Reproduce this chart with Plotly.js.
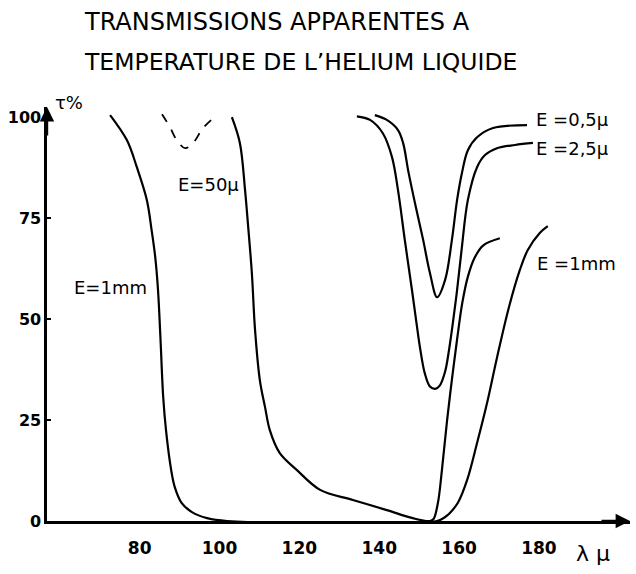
<!DOCTYPE html>
<html>
<head>
<meta charset="utf-8">
<script src="https://cdn.plot.ly/plotly-3.0.1.min.js"></script>
<style>
html,body{margin:0;padding:0;background:#fff;}
#chart{width:636px;height:574px;}
</style>
</head>
<body>
<div id="chart"></div>
<script>
// ---- data (wavelength in microns, transmission in %) ----
const titleLine1 = "TRANSMISSIONS APPARENTES A";
const titleLine2 = "TEMPERATURE DE L\u2019HELIUM LIQUIDE";

const xTicks = [80, 100, 120, 140, 160, 180];
const yTicks = [0, 25, 50, 75, 100];

const lam_1mm = [72.6, 76.8, 79.3, 81.8, 83.0, 83.9, 84.6, 85.2, 85.9, 86.6, 87.9, 88.8, 90.5, 93.1, 96.9, 101.9, 154.5, 156.5, 157.7, 159.7, 162.0, 164.5, 167.0, 169.5, 172.5, 175.2, 177.2, 180.2, 182.2];
const T_1mm   = [100.5, 94.3, 87.6, 79.5, 72.0, 65.4, 57.2, 45.5, 30.7, 22.5, 12.6, 8.4, 4.5, 2.2, 0.7, 0, 0, 1.0, 2.0, 4.5, 10.1, 19.3, 29.2, 40.5, 53.0, 62.1, 67.1, 71.3, 73.0];

const lam_50u = [103.1, 105.1, 106.4, 107.1, 108.1, 108.9, 110.1, 111.4, 112.6, 115.1, 119.4, 125.2, 133.4, 141.9, 148.4, 152.7, 153.6, 154.7, 155.7, 157.0, 158.2, 159.5, 160.8, 162.2, 163.8, 166.0, 170.2];
const T_50u   = [100, 93.6, 81.9, 73.8, 61.4, 47.3, 34.9, 28.2, 22.5, 16.8, 12.6, 7.7, 5.2, 2.7, 0.7, 0, 0.5, 4.5, 12.6, 25.0, 35.0, 45.0, 54.0, 60.5, 65.0, 68.2, 70.0];

const lam_50u_dash = [85.6, 87.6, 89.3, 91.4, 93.4, 95.9, 99.6];
const T_50u_dash   = [100.7, 97.5, 94.3, 92.3, 93.6, 97.3, 100.7];

const lam_05u = [138.9, 141.9, 144.7, 146.0, 147.3, 149.0, 151.0, 152.7, 154.5, 156.5, 158.2, 159.5, 160.7, 162.2, 164.5, 168.5, 177.0];
const T_05u   = [100.5, 99.3, 96.8, 93.5, 86.5, 78.5, 69.6, 61.4, 55.4, 59.7, 69.6, 79.5, 86.1, 91.8, 95.0, 97.3, 98.0];

const lam_25u = [134.4, 137.7, 140.9, 143.2, 144.7, 146.4, 148.2, 149.4, 150.2, 151.4, 152.7, 154.0, 155.2, 156.5, 157.5, 158.3, 159.5, 160.7, 162.2, 164.5, 166.5, 169.5, 174.0, 178.5];
const T_25u   = [100.2, 99.3, 96.0, 90.1, 81.9, 69.6, 57.2, 48.5, 43.0, 36.6, 33.3, 32.7, 33.6, 37.0, 42.5, 48.0, 57.2, 67.8, 79.5, 87.6, 90.6, 92.3, 93.1, 93.6];

const seriesLabels = ["E=1mm", "E=50\u03bc", "E =0,5\u03bc", "E =2,5\u03bc", "E =1mm"];

// ---- chart ----
const FONT = "DejaVu Sans, Liberation Sans, sans-serif";
const ink = "#000";
const lineStyle = {color: ink, width: 2.2, shape: "spline", smoothing: 1.0};

const traces = [
  {x: lam_1mm, y: T_1mm, mode: "lines", line: lineStyle, name: "E=1mm"},
  {x: lam_50u, y: T_50u, mode: "lines", line: lineStyle, name: "E=50\u03bc"},
  {x: lam_50u_dash, y: T_50u_dash, mode: "lines", line: Object.assign({}, lineStyle, {dash: "dash", width: 1.8}), name: "E=50\u03bc (dashed)"},
  {x: lam_05u, y: T_05u, mode: "lines", line: lineStyle, name: "E=0,5\u03bc"},
  {x: lam_25u, y: T_25u, mode: "lines", line: lineStyle, name: "E=2,5\u03bc"}
];

const labFont = {family: FONT, size: 18, color: ink};
const annotations = [
  {text: titleLine2, xref: "paper", yref: "paper", x: 0.06, y: 1.109, xanchor: "left", yanchor: "middle", showarrow: false, font: {family: FONT, size: 23.5, color: ink}},
  {text: seriesLabels[0], x: 72.8, y: 57.7, xref: "x", yref: "y", showarrow: false, font: labFont},
  {text: seriesLabels[1], x: 97.3, y: 83.4, xref: "x", yref: "y", showarrow: false, font: labFont},
  {text: seriesLabels[2], x: 178.8, y: 99.5, xref: "x", yref: "y", showarrow: false, xanchor: "left", font: labFont},
  {text: seriesLabels[3], x: 178.8, y: 92.3, xref: "x", yref: "y", showarrow: false, xanchor: "left", font: labFont},
  {text: seriesLabels[4], x: 179.0, y: 63.8, xref: "x", yref: "y", showarrow: false, xanchor: "left", font: labFont},
  {text: "\u03c4%", xref: "paper", yref: "paper", x: 0.037, y: 1.01, xanchor: "center", yanchor: "middle", showarrow: false, font: {family: FONT, size: 18, color: ink}},
  {text: "\u03bb \u03bc", xref: "paper", yref: "paper", x: 0.937, y: -0.078, xanchor: "center", yanchor: "middle", showarrow: false, font: {family: FONT, size: 22, color: ink}},
  // axis arrows
  {text: "", xref: "paper", yref: "paper", x: 1, y: 0, ax: -30, ay: 0, showarrow: true, arrowhead: 2, arrowsize: 1.2, arrowwidth: 2.4, arrowcolor: ink},
  {text: "", xref: "paper", yref: "paper", x: 0, y: 1, ax: 0, ay: 30, showarrow: true, arrowhead: 2, arrowsize: 1.2, arrowwidth: 2.4, arrowcolor: ink}
];

const layout = {
  width: 636, height: 574,
  margin: {l: 47, r: 6, t: 107, b: 53},
  paper_bgcolor: "#fff", plot_bgcolor: "#fff",
  showlegend: false,
  title: {text: titleLine1, x: 85/636, xanchor: "left", xref: "container", y: 1 - 22/574, yref: "container", yanchor: "middle", font: {family: FONT, size: 24, color: ink}},
  xaxis: {
    range: [56.8, 202.8], tickvals: xTicks, ticktext: xTicks.map(String),
    showgrid: false, zeroline: false, showline: true, linecolor: ink, linewidth: 2.6,
    ticks: "", ticklabelstandoff: 10,
    tickfont: {family: FONT, size: 17, color: ink, weight: "bold"}, fixedrange: true
  },
  yaxis: {
    range: [0, 102.5], tickvals: yTicks, ticktext: yTicks.map(String),
    showgrid: false, zeroline: false, showline: true, linecolor: ink, linewidth: 2.6,
    ticks: "inside", ticklen: 4, tickwidth: 2, tickcolor: ink,
    tickfont: {family: FONT, size: 16, color: ink, weight: "bold"}, fixedrange: true
  },
  annotations: annotations
};

Plotly.newPlot("chart", traces, layout, {displayModeBar: false, staticPlot: true});
</script>
</body>
</html>
